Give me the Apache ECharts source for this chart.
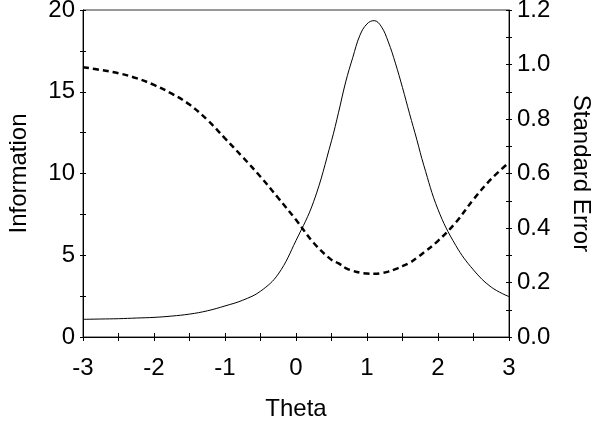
<!DOCTYPE html>
<html>
<head>
<meta charset="utf-8">
<script src="https://cdn.jsdelivr.net/npm/echarts@6/dist/echarts.min.js"></script>
<style>
  html, body { margin: 0; padding: 0; background: #fff; }
  #chart { width: 600px; height: 422px; }
</style>
</head>
<body>
<div id="chart"></div>
<script>
// theta values (x)
var thetas = [-3, -2.75, -2.5, -2.25, -2, -1.75, -1.5, -1.25, -1, -0.75, -0.5, -0.25,
  0, 0.25, 0.5, 0.6, 0.7, 0.8, 0.9, 1, 1.1, 1.2, 1.3, 1.4, 1.5, 1.6, 1.7, 1.8,
  2, 2.25, 2.5, 2.75, 3];
// test information (left axis)
var information = [1.08, 1.1, 1.12, 1.16, 1.2, 1.28, 1.4, 1.6, 1.9, 2.25, 2.8, 3.85,
  5.9, 8.3, 12.0, 13.75, 15.6, 17.1, 18.45, 19.15, 19.35, 19.0, 18.05, 16.75, 15.25, 13.65, 12.1, 10.5,
  7.8, 5.6, 4.1, 3.05, 2.47];
// standard error (right axis)
var standardError = [0.99, 0.98, 0.968, 0.95, 0.925, 0.893, 0.853, 0.797, 0.729, 0.66, 0.588, 0.51,
  0.43, 0.345, 0.283, 0.27, 0.253, 0.243, 0.236, 0.233, 0.232, 0.234, 0.24, 0.249, 0.26, 0.272, 0.29, 0.31,
  0.353, 0.42, 0.505, 0.58, 0.64];

var font = "Liberation Sans, Arial, sans-serif";
var fontSize = 24;

var myChart = echarts.init(document.getElementById("chart"));

// 轴线样式，不要跟着0走
function axisLine(show) {
  return { show: show, onZero: false, lineStyle: { color: "#000", width: 1 } };
}

var option = {
  animation: false,
  grid: {
    left: 83,
    right: 91,
    top: 10,
    bottom: 85,
    // 不让文字把网格挤小
    outerBoundsMode: "none",
    show: true,
    borderColor: "#333",
    borderWidth: 1,
    backgroundColor: "transparent"
  },
  xAxis: [
    {
      type: "value",
      min: -3,
      max: 3,
      interval: 0.5,
      position: "bottom",
      name: "Theta",
      nameLocation: "middle",
      nameGap: 60,
      nameTextStyle: { color: "#000", fontSize: fontSize, fontFamily: font },
      axisLine: axisLine(true),
      axisTick: { show: true, length: 4, lineStyle: { color: "#000" } },
      axisLabel: {
        color: "#000",
        fontSize: fontSize,
        fontFamily: font,
        margin: 19,
        formatter: function (v) {
          return Number.isInteger(v) ? String(v) : "";
        }
      },
      splitLine: { show: false }
    },
    {
      // 朝内的刻度
      type: "value",
      min: -3,
      max: 3,
      interval: 0.5,
      position: "bottom",
      axisLine: axisLine(false),
      axisTick: { show: true, inside: true, length: 4, lineStyle: { color: "#000" } },
      axisLabel: { show: false },
      splitLine: { show: false }
    }
  ],
  yAxis: [
    {
      type: "value",
      min: 0,
      max: 20,
      interval: 2.5,
      position: "left",
      name: "Information",
      nameLocation: "middle",
      nameGap: 52,
      nameTextStyle: { color: "#000", fontSize: fontSize, fontFamily: font },
      axisLine: axisLine(true),
      axisTick: { show: true, length: 3, lineStyle: { color: "#000" } },
      axisLabel: {
        color: "#000",
        fontSize: fontSize,
        fontFamily: font,
        margin: 8,
        formatter: function (v) {
          return v % 5 === 0 ? String(v) : "";
        }
      },
      splitLine: { show: false }
    },
    {
      type: "value",
      min: 0,
      max: 1.2,
      interval: 0.1,
      position: "right",
      name: "Standard Error",
      nameLocation: "middle",
      nameGap: 60,
      nameRotate: -90,
      nameTextStyle: { color: "#000", fontSize: fontSize, fontFamily: font },
      axisLine: axisLine(true),
      axisTick: { show: true, length: 3, lineStyle: { color: "#000" } },
      axisLabel: {
        color: "#000",
        fontSize: fontSize,
        fontFamily: font,
        margin: 8,
        formatter: function (v) {
          return Math.round(v * 10) % 2 === 0 ? v.toFixed(1) : "";
        }
      },
      splitLine: { show: false }
    },
    {
      type: "value",
      min: 0,
      max: 20,
      interval: 2.5,
      position: "left",
      axisLine: axisLine(false),
      axisTick: { show: true, inside: true, length: 3, lineStyle: { color: "#000" } },
      axisLabel: { show: false },
      splitLine: { show: false }
    },
    {
      type: "value",
      min: 0,
      max: 1.2,
      interval: 0.1,
      position: "right",
      axisLine: axisLine(false),
      axisTick: { show: true, inside: true, length: 3, lineStyle: { color: "#000" } },
      axisLabel: { show: false },
      splitLine: { show: false }
    }
  ],
  series: [
    {
      name: "Information",
      type: "line",
      xAxisIndex: 0,
      yAxisIndex: 0,
      smooth: 0.4,
      symbol: "none",
      lineStyle: { color: "#000", width: 1 },
      data: thetas.map(function (t, i) { return [t, information[i]]; })
    },
    {
      name: "Standard Error",
      type: "line",
      xAxisIndex: 0,
      yAxisIndex: 1,
      smooth: 0.4,
      symbol: "none",
      lineStyle: { color: "#000", width: 2.5, type: [6, 4] },
      data: thetas.map(function (t, i) { return [t, standardError[i]]; })
    }
  ]
};

option && myChart.setOption(option);
</script>
</body>
</html>
